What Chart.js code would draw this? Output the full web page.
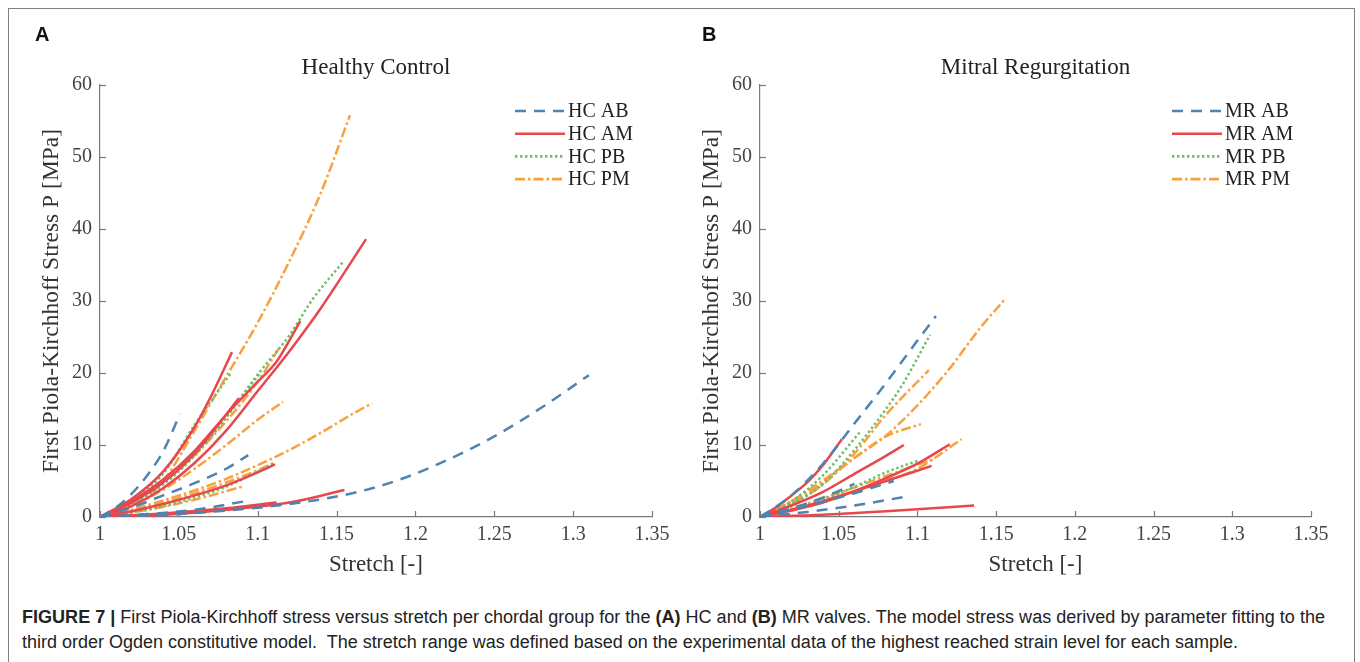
<!DOCTYPE html>
<html><head><meta charset="utf-8">
<script src="https://cdn.jsdelivr.net/npm/chart.js@4.4.0/dist/chart.umd.min.js"></script>
<style>
body{margin:0;background:#fff;width:1360px;height:662px;overflow:hidden;position:relative}
#frame{position:absolute;left:8px;top:8px;width:1347px;height:720px;border:1.5px solid #808080;box-sizing:border-box}
.wrap{position:absolute;top:0;width:680px;height:600px}
#wA{left:0}#wB{left:660px}
.letter{position:absolute;font:bold 20px 'Liberation Sans',Arial,sans-serif;color:#111}
.cap{position:absolute;left:22px;font-family:'Liberation Sans Narrow','Arial Narrow','Liberation Sans',sans-serif;font-size:18px;color:#222;white-space:nowrap;transform-origin:0 50%;line-height:20px}
</style></head><body>
<div id="frame"></div>
<div class="wrap" id="wA"><canvas id="cA" width="680" height="600"></canvas></div>
<div class="wrap" id="wB"><canvas id="cB" width="680" height="600"></canvas></div>
<div class="letter" style="left:35px;top:23px">A</div>
<div class="letter" style="left:702px;top:23px">B</div>
<div class="cap" id="cap1" style="top:607px"><b>FIGURE 7 |</b> First Piola-Kirchhoff stress versus stretch per chordal group for the <b>(A)</b> HC and <b>(B)</b> MR valves. The model stress was derived by parameter fitting to the</div>
<div class="cap" id="cap2" style="top:632px">third order Ogden constitutive model.&nbsp; The stretch range was defined based on the experimental data of the highest reached strain level for each sample.</div>
<script>
// ---- axes ----
const stretchTicks = [1, 1.05, 1.1, 1.15, 1.2, 1.25, 1.3, 1.35];
const stretchTickLabels = ['1', '1.05', '1.1', '1.15', '1.2', '1.25', '1.3', '1.35'];
const stressTicks = [0, 10, 20, 30, 40, 50, 60];
const panelTitles = ['Healthy Control', 'Mitral Regurgitation'];
const hcLegend = ['HC AB', 'HC AM', 'HC PB', 'HC PM'];
const mrLegend = ['MR AB', 'MR AM', 'MR PB', 'MR PM'];

// ---- Healthy Control: [stretch, stress MPa] ----
const hcAB = [
  [[1,0],[1.04,0.3],[1.08,0.9],[1.12,1.8],[1.16,3.3],[1.19,5.2],[1.22,7.9],[1.25,11.2],[1.28,15.2],[1.31,19.7]],
  [[1,0],[1.01,1.3],[1.02,3.2],[1.03,5.8],[1.04,9.1],[1.0507,14.3]],
  [[1,0],[1.02,1.3],[1.04,3.0],[1.06,4.7],[1.08,6.7],[1.094,8.6]],
  [[1,0],[1.03,0.4],[1.06,1.0],[1.095,2.3]]
];
const hcAM = [
  [[1,0],[1.02,1.5],[1.04,4],[1.06,7.5],[1.08,12],[1.10,17.5],[1.12,23],[1.14,29],[1.1687,38.6]],
  [[1,0],[1.02,2.2],[1.04,5.2],[1.06,9.2],[1.08,14.2],[1.10,18.8],[1.112,21.6],[1.127,27.2]],
  [[1,0],[1.02,2.5],[1.04,6.3],[1.06,12.5],[1.07,16.6],[1.0837,22.9]],
  [[1,0],[1.02,2],[1.04,4.8],[1.06,8.8],[1.088,16.5]],
  [[1,0],[1.02,0.8],[1.04,1.8],[1.06,3.0],[1.08,4.4],[1.10,6.2],[1.111,7.3]],
  [[1,0],[1.04,0.3],[1.08,1.0],[1.12,2.0],[1.155,3.75]],
  [[1,0],[1.04,0.5],[1.08,1.2],[1.112,2.0]]
];
const hcPB = [
  [[1,0],[1.02,1.8],[1.04,4.5],[1.06,8.5],[1.08,13.8],[1.10,19.8],[1.12,25.2],[1.135,30.3],[1.154,35.4]],
  [[1,0],[1.02,2.3],[1.04,6.0],[1.06,12.8],[1.083,20]],
  [[1,0],[1.02,2],[1.04,4.8],[1.06,8.6],[1.08,14],[1.1015,20]],
  [[1,0],[1.02,0.6],[1.04,1.5],[1.06,2.7],[1.08,4.2],[1.10,6.3],[1.11,7.4]]
];
const hcPM = [
  [[1,0],[1.02,1.5],[1.04,5],[1.06,12],[1.08,19.5],[1.10,27],[1.12,35.5],[1.14,45],[1.1585,55.8]],
  [[1,0],[1.02,1.0],[1.04,2.3],[1.06,3.7],[1.08,5.3],[1.10,7.2],[1.12,9.3],[1.14,11.7],[1.16,14.3],[1.1725,15.8]],
  [[1,0],[1.02,1.6],[1.04,3.8],[1.06,6.7],[1.08,10],[1.10,13.5],[1.116,16]],
  [[1,0],[1.02,2.0],[1.04,4.8],[1.06,8.6],[1.08,13.3],[1.10,18.8],[1.114,23.6]],
  [[1,0],[1.02,0.9],[1.04,2.0],[1.06,3.3],[1.08,4.8],[1.10,6.5],[1.111,7.6]],
  [[1,0],[1.03,1.0],[1.06,2.4],[1.09,4.2]]
];

// ---- Mitral Regurgitation ----
const mrAB = [
  [[1,0],[1.02,3],[1.04,7.4],[1.06,13],[1.08,18.6],[1.10,24.5],[1.1117,27.9]],
  [[1,0],[1.02,1.2],[1.04,2.7],[1.06,4.6]],
  [[1,0],[1.03,0.7],[1.06,1.6],[1.092,2.8]],
  [[1,0],[1.02,1.0],[1.04,2.1],[1.06,3.3],[1.085,5.0]]
];
const mrAM = [
  [[1,0],[1.01,1.3],[1.02,3],[1.03,4.8],[1.04,7.2],[1.052,10.8]],
  [[1,0],[1.02,1.6],[1.04,3.5],[1.06,6],[1.08,8.5],[1.0914,10]],
  [[1,0],[1.02,0.9],[1.04,2.0],[1.06,3.6],[1.08,5.4],[1.10,7.4],[1.1206,10.1]],
  [[1,0],[1.02,1.0],[1.04,2.2],[1.06,3.6],[1.08,5.0],[1.109,7.1]],
  [[1,0],[1.04,0.3],[1.08,0.8],[1.136,1.6]]
];
const mrPB = [
  [[1,0],[1.02,1.8],[1.04,4.6],[1.06,9.3],[1.08,15],[1.09,18.2],[1.108,25.3]],
  [[1,0],[1.02,2.2],[1.04,5.8],[1.0635,11.8]],
  [[1,0],[1.02,1.0],[1.04,2.4],[1.06,4.2],[1.08,6.2],[1.10,7.8]]
];
const mrPM = [
  [[1,0],[1.02,2.2],[1.04,5.1],[1.06,8.2],[1.08,11.3],[1.10,15.5],[1.12,20.5],[1.14,26.3],[1.155,30.1]],
  [[1,0],[1.02,1.8],[1.04,4.5],[1.06,8.8],[1.08,14.2],[1.1073,20.4]],
  [[1,0],[1.02,2.1],[1.04,4.8],[1.06,8.2],[1.08,11.2],[1.1022,12.9]],
  [[1,0],[1.02,0.9],[1.04,2.1],[1.06,3.5],[1.08,5.0],[1.10,6.7],[1.128,10.8]],
  [[1,0],[1.02,1.2],[1.04,2.6],[1.06,4.1],[1.08,5.7],[1.11,8.0]]
];

const styles = [
  {color:'#4e83b2', dash:[11,8]},
  {color:'#e8474d', dash:[]},
  {color:'#6cc06a', dash:[2.4,2.6]},
  {color:'#f9a03f', dash:[10,3,2.5,3]}
];
const SERIF = "'Liberation Serif','Times New Roman',serif";

function makeDatasets(groups, names){
  const ds = [];
  groups.forEach((g, gi) => {
    g.forEach(curve => {
      ds.push({
        label: names[gi],
        data: curve.map(p => ({x:p[0], y:p[1]})),
        borderColor: styles[gi].color,
        borderDash: styles[gi].dash,
        borderWidth: 2.5,
        borderCapStyle: 'butt',
        pointRadius: 0,
        fill: false,
        showLine: true,
        cubicInterpolationMode: 'monotone'
      });
    });
  });
  return ds;
}

const decor = {
  id: 'decor',
  afterDraw(chart, args, opts){
    const {ctx, chartArea:a, scales:{x, y}} = chart;
    ctx.save();
    ctx.strokeStyle = '#7a7a7a'; ctx.lineWidth = 1.2; ctx.setLineDash([]);
    stretchTicks.forEach(v => { const px = Math.round(x.getPixelForValue(v)) + 0.5;
      ctx.beginPath(); ctx.moveTo(px, a.bottom); ctx.lineTo(px, a.bottom - 6); ctx.stroke(); });
    stressTicks.forEach(v => { const py = Math.round(y.getPixelForValue(v)) + 0.5;
      ctx.beginPath(); ctx.moveTo(a.left, py); ctx.lineTo(a.left + 6, py); ctx.stroke(); });
    ctx.fillStyle = '#222'; ctx.font = '23px ' + SERIF; ctx.textAlign = 'center'; ctx.textBaseline = 'middle';
    ctx.fillText(opts.title, (a.left + a.right) / 2, 68);
    opts.legend.forEach((lab, i) => {
      const yy = 111 + i * 22.7;
      const x0 = a.left + opts.lx;
      ctx.strokeStyle = styles[i].color; ctx.lineWidth = 2.6; ctx.setLineDash(styles[i].dash); ctx.lineCap = 'butt';
      ctx.beginPath(); ctx.moveTo(x0, yy); ctx.lineTo(x0 + 50, yy); ctx.stroke();
      ctx.setLineDash([]);
      ctx.fillStyle = '#222'; ctx.font = '20px ' + SERIF; ctx.textAlign = 'left'; ctx.textBaseline = 'middle';
      ctx.fillText(lab, x0 + 53, yy + 1);
    });
    ctx.restore();
  }
};

function makeChart(id, groups, names, title, rightPad, lx){
  return new Chart(document.getElementById(id), {
    type: 'scatter',
    data: {datasets: makeDatasets(groups, names)},
    options: {
      responsive: false, animation: false,
      layout: {padding: {left: 38, right: rightPad, top: 85, bottom: 13}},
      plugins: {legend: {display: false}, tooltip: {enabled: false}, decor: {title, legend: names, lx}},
      scales: {
        x: {
          type: 'linear', min: 1, max: 1.35,
          afterBuildTicks: s => { s.ticks = stretchTicks.map(v => ({value: v})); },
          afterFit: s => { s.height = 70; },
          ticks: {callback: (v) => { const i = stretchTicks.findIndex(t => Math.abs(t - v) < 1e-6); return i >= 0 ? stretchTickLabels[i] : ''; },
                  font: {family: SERIF, size: 20}, color: '#444', padding: 6, maxRotation: 0, autoSkip: false},
          grid: {drawOnChartArea: false, drawTicks: false},
          border: {color: '#7a7a7a', width: 1.2},
          title: {display: true, text: 'Stretch [-]', font: {family: SERIF, size: 23}, color: '#333', padding: {top: 0, bottom: 8}}
        },
        y: {
          type: 'linear', min: 0, max: 60,
          afterBuildTicks: s => { s.ticks = stressTicks.map(v => ({value: v})); },
          afterFit: s => { s.width = 62; },
          ticks: {font: {family: SERIF, size: 20}, color: '#444', padding: 8},
          grid: {drawOnChartArea: false, drawTicks: false},
          border: {color: '#7a7a7a', width: 1.2},
          title: {display: true, text: 'First Piola-Kirchhoff Stress P [MPa]', font: {family: SERIF, size: 23.5}, color: '#333', padding: {top: 0, bottom: 0}}
        }
      }
    },
    plugins: [decor]
  });
}

makeChart('cA', [hcAB, hcAM, hcPB, hcPM], hcLegend, panelTitles[0], 28, 415);
makeChart('cB', [mrAB, mrAM, mrPB, mrPM], mrLegend, panelTitles[1], 29, 412);

[['cap1', 1303], ['cap2', 1216]].forEach(([id, w]) => {
  const el = document.getElementById(id);
  const cw = el.getBoundingClientRect().width;
  el.style.transform = 'scaleX(' + (w / cw) + ')';
});
</script>
</body></html>
